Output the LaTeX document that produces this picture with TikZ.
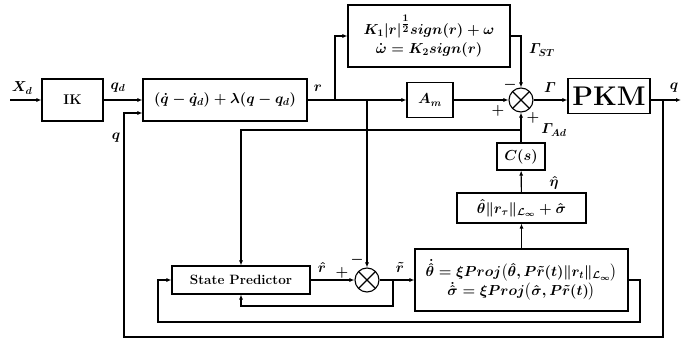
\RequirePackage{fix-cm}
\documentclass[tikz,border=0pt]{standalone}
\usepackage{amsmath}
\usetikzlibrary{arrows.meta,calc}
\begin{document}
\begin{tikzpicture}[x=1pt,y=-1pt,
  every node/.append style={font=\fontsize{14.5}{19}\selectfont\boldmath},
  blk/.style={draw, line width=1.1pt, inner sep=0pt, align=center},
  lbl/.style={inner sep=0pt},
  sumc/.style={draw, circle, line width=1.1pt, minimum size=24pt, inner sep=0pt,
    path picture={\draw[line width=1.1pt] (path picture bounding box.north west) -- (path picture bounding box.south east)
      (path picture bounding box.north east) -- (path picture bounding box.south west);}},
  wire/.style={line width=1.1pt},
  arr/.style={wire, -{Latex[length=5pt,width=4pt]}}]
\useasboundingbox (0,0) rectangle (697,343);
% blocks
\node[blk, minimum width=61pt, minimum height=42pt, font=\fontsize{14}{16}\selectfont\bfseries] (ik) at (72.5,100) {IK};
\node[blk, minimum width=164pt, minimum height=42pt] (err) at (225,100) {$(\dot{q}-\dot{q}_d)+\lambda(q-q_d)$};
\node[blk, minimum width=162pt, minimum height=62pt] (top) at (429,36) {$K_1|r|^{\tfrac{1}{2}}sign(r)+\omega$\\ $\dot{\omega}=K_2sign(r)$};
\node[blk, minimum width=46pt, minimum height=35pt] (am) at (430,100) {$A_m$};
\node[sumc] (s1) at (521,100) {};
\node[blk, minimum width=82pt, minimum height=35pt, font=\fontsize{27}{30}\selectfont\bfseries] (pkm) at (609,96) {PKM};
\node[blk, minimum width=48pt, minimum height=27pt] (cs) at (521,156.5) {$C(s)$};
\node[blk, minimum width=129pt, minimum height=30pt] (th) at (521.5,208) {$\hat{\theta}\|r_\tau\|_{\mathcal{L}_\infty}+\hat{\sigma}$};
\node[blk, minimum width=213pt, minimum height=62pt] (ad) at (521.5,280) {$\dot{\hat{\theta}}=\xi Proj\bigl(\hat{\theta},P\tilde{r}(t)\|r_t\|_{\mathcal{L}_\infty}\bigr)$\\ $\dot{\hat{\sigma}}=\xi Proj\bigl(\hat{\sigma},P\tilde{r}(t)\bigr)$};
\node[blk, minimum width=138pt, minimum height=28pt, font=\fontsize{13.5}{16}\selectfont\bfseries] (sp) at (241,280) {State Predictor};
\node[sumc] (s2) at (367,280) {};
% coordinates
\coordinate (xin) at (10,100);
\coordinate (b1) at (335,100);
\coordinate (b2) at (367,100);
\coordinate (b3) at (663,100);
\coordinate (qout) at (681,100);
\coordinate (c2) at (124,337);
\coordinate (c3) at (124,113);
\coordinate (j1) at (521,130);
\coordinate (b4) at (393,280);
\coordinate (c4) at (393,306);
\coordinate (c5) at (640,322);
\coordinate (c6) at (158,322);
% connectors
\draw[arr] (xin) -- (ik);
\draw[arr] (ik) -- (err);
\draw[arr] (err) -- (am);
\draw[arr] (am) -- (s1);
\draw[arr] (b1) |- (top.west);
\draw[arr] (top.east) -| (s1.north);
\draw[arr] (s1) -- (s1 -| pkm.west);
\draw[arr] (pkm.east |- s1) -- (qout);
\draw[arr] (b3) |- (c2) -- (c3) -- (c3 -| err.west);
\draw[arr] (b2) -- (s2);
\draw[arr] (cs) -- (s1);
\draw[arr] (j1) -| (sp.north);
\draw[arr] (th) -- (cs);
\draw[arr] (ad) -- (th);
\draw[arr] (sp) -- (s2);
\draw[arr] (s2) -- (ad);
\draw[arr] (b4) -- (c4) -| (sp.south);
\draw[arr] (ad.east) -| (c5) -- (c6) |- (sp.west);
% labels
\node[lbl] (lxd) at (22,88) {$X_d$};
\node[lbl] (lqd) at (118,88) {$q_d$};
\node[lbl] (lr) at (318,88) {$r$};
\node[lbl] (lst) at (542,50) {$\varGamma_{ST}$};
\node[lbl] (lg) at (550,88) {$\varGamma$};
\node[lbl] (lq) at (674,88) {$q$};
\node[lbl] (lad) at (554,130) {$\varGamma_{Ad}$};
\node[lbl] (leta) at (554,183) {$\hat{\eta}$};
\node[lbl] (lq2) at (116,138) {$q$};
\node[lbl] (m1) at (510,85) {$-$};
\node[lbl] (p1) at (498,111) {$+$};
\node[lbl] (p2) at (533,118) {$+$};
\node[lbl] (lrh) at (322,267) {$\hat{r}$};
\node[lbl] (p3) at (342,273) {$+$};
\node[lbl] (m2) at (357,260) {$-$};
\node[lbl] (lrt) at (400,267) {$\tilde{r}$};
\end{tikzpicture}
\end{document}
